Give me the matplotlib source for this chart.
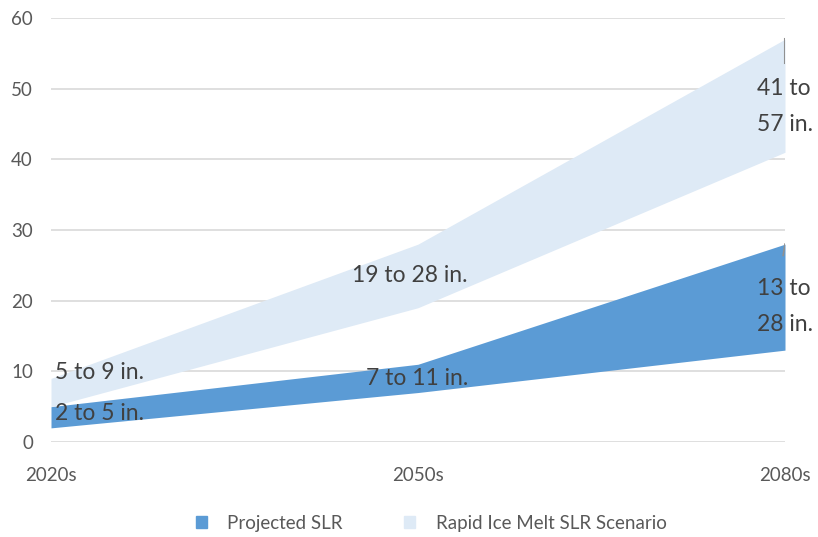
import matplotlib
matplotlib.use("Agg")
import matplotlib.pyplot as plt
from matplotlib.patches import Patch

periods = ["2020s", "2050s", "2080s"]
proj_low = [2, 7, 13]
proj_high = [5, 11, 28]
rapid_low = [5, 19, 41]
rapid_high = [9, 28, 57]
yticks = [0, 10, 20, 30, 40, 50, 60]

dark = "#5B9BD5"
light = "#DEEAF6"
plt.rcParams['font.family'] = ['Lato', 'DejaVu Sans']

fig = plt.figure(figsize=(8.18, 5.37), dpi=100)
ax = fig.add_axes([51/818, 1-442/537, (785-51)/818, (442-18)/537])
x = list(range(len(periods)))
ax.fill_between(x, rapid_low, rapid_high, color=light, lw=0, zorder=2)
ax.fill_between(x, proj_low, proj_high, color=dark, lw=0, zorder=3)

# small marks at top of last column
ax.plot([x[-1], x[-1]], [rapid_high[-1], rapid_high[-1]-3.3], color="#909090", lw=1.5, zorder=4)
ax.plot([x[-1]-0.005, x[-1]], [proj_high[-1]-1.6, proj_high[-1]], color="#909090", lw=1.2, zorder=4)

ax.set_xlim(0, 2)
ax.set_ylim(0, 60)
ax.set_yticks(yticks)
ax.set_xticks(x)
ax.set_xticklabels(periods)
ax.grid(axis='y', color="#D9D9D9", lw=1.2, zorder=0)
ax.set_axisbelow(True)
for s in ax.spines.values():
    s.set_visible(False)
ax.tick_params(axis='both', length=0, colors="#595959", labelsize=13.5)
ax.tick_params(axis='y', pad=13)
ax.tick_params(axis='x', pad=18)

tc = "#404040"
fs = 16.5
ax.text(0.01, 9.8, "5 to 9 in.", fontsize=fs, color=tc, va='center', ha='left', zorder=5)
ax.text(0.01, 4.0, "2 to 5 in.", fontsize=fs, color=tc, va='center', ha='left', zorder=5)
ax.text(0.978, 23.5, "19 to 28 in.", fontsize=fs, color=tc, va='center', ha='center', zorder=5)
ax.text(0.998, 9.0, "7 to 11 in.", fontsize=fs, color=tc, va='center', ha='center', zorder=5)
ax.text(1.925, 47.5, "41 to\n57 in.", fontsize=fs, color=tc, va='center', ha='left', zorder=5, linespacing=1.85)
ax.text(1.925, 19.2, "13 to\n28 in.", fontsize=fs, color=tc, va='center', ha='left', zorder=5, linespacing=1.85)

handles = [Patch(color=dark, label="Projected SLR"), Patch(color=light, label="Rapid Ice Melt SLR Scenario")]
fig.legend(handles=handles, loc='center', bbox_to_anchor=(0.527, 1-523/537), ncol=2, frameon=False,
           fontsize=13.5, labelcolor="#595959", handlelength=0.6, handleheight=0.6, columnspacing=3.25, handletextpad=1.1)

fig.savefig("out.png", dpi=100)
